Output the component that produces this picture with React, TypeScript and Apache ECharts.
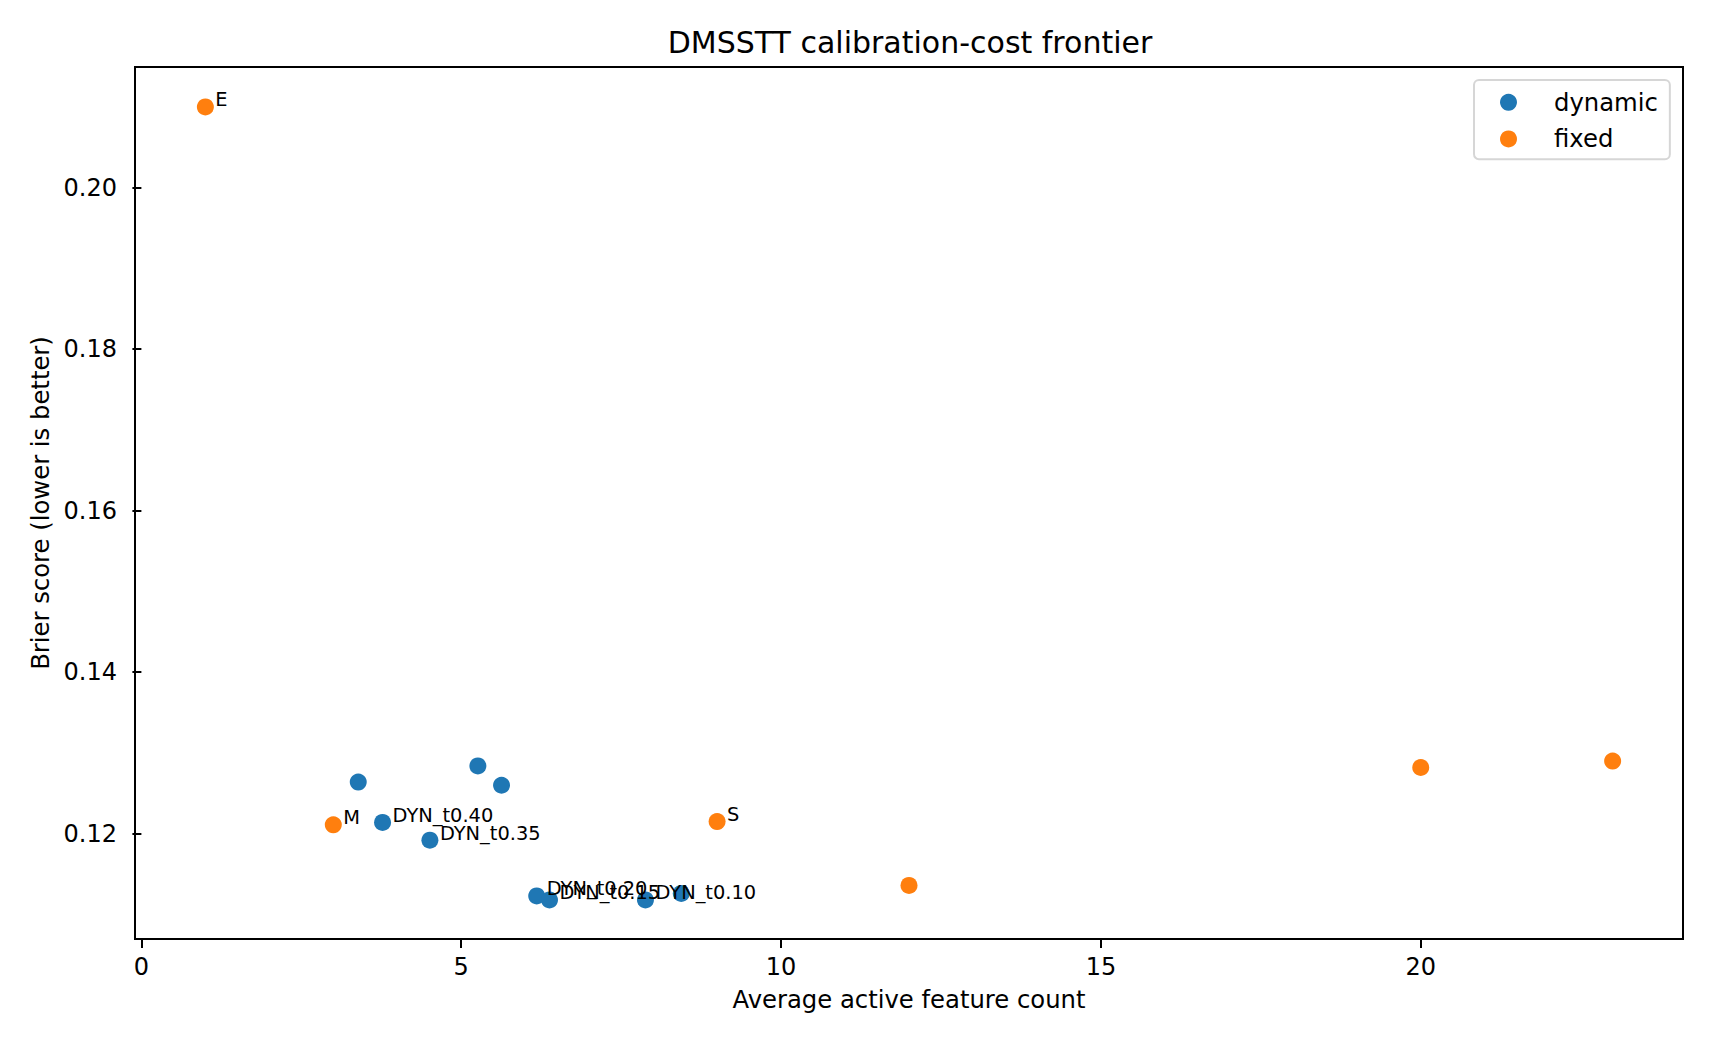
import React, { useEffect, useRef } from 'react';
import * as echarts from 'echarts';

// ---- data ----
const dynamicX = [3.39, 3.77, 4.51, 5.26, 5.63, 6.18, 6.38, 7.88, 8.44];
const dynamicY = [0.1264, 0.1214, 0.1192, 0.1284, 0.1260, 0.1123, 0.1118, 0.1118, 0.1126];
const dynamicLabels = ['', 'DYN_t0.40', 'DYN_t0.35', '', '', 'DYN_t0.20', 'DYN_t0.15', 'DYN_t0.10', ''];

const fixedX = [1, 3, 9, 12, 20, 23];
const fixedY = [0.2100, 0.1211, 0.1215, 0.1136, 0.1282, 0.1290];
const fixedLabels = ['E', 'M', 'S', '', '', ''];

const xTicks = [0, 5, 10, 15, 20];
const yTicks = [0.12, 0.14, 0.16, 0.18, 0.2];

const FONT = 'DejaVu Sans';

function buildPoints(xs: number[], ys: number[], labels: string[]) {
  return xs.map((x, i) => ({
    value: [x, ys[i]],
    name: labels[i],
    label: { show: labels[i] !== '' },
  }));
}

export default function App() {
  const ref = useRef<HTMLDivElement>(null);

  useEffect(() => {
    document.body.style.margin = '0';
    const chart = echarts.init(ref.current!, null, { renderer: 'svg' });
    const labelStyle = {
      position: 'right',
      distance: 1.5,
      offset: [0, -7],
      fontSize: 19.4,
      fontFamily: FONT,
      color: '#000',
      formatter: '{b}',
    };
    chart.setOption({
      animation: false,
      backgroundColor: '#ffffff',
      title: {
        text: 'DMSSTT calibration-cost frontier',
        left: 905,
        top: 22,
        textAlign: 'center',
        textStyle: { fontFamily: FONT, fontSize: 30, fontWeight: 'normal', color: '#000' },
      },
      legend: {
        orient: 'vertical',
        left: 1474,
        top: 80,
        itemWidth: 17,
        itemHeight: 17,
        itemGap: 0,
        padding: [4, 12, 2, 26],
        borderColor: 'rgba(204,204,204,0.8)',
        borderWidth: 2,
        borderRadius: 5,
        backgroundColor: 'rgba(255,255,255,0.8)',
        textStyle: {
          fontFamily: FONT,
          fontSize: 24.3,
          color: '#000',
          lineHeight: 36.6,
          padding: [0, 0, 0, 32],
        },
        data: [
          { name: 'dynamic', icon: 'circle' },
          { name: 'fixed', icon: 'circle' },
        ],
      },
      grid: {
        left: 135,
        top: 67,
        width: 1548,
        height: 872,
        show: true,
        borderColor: '#000',
        borderWidth: 2,
        backgroundColor: 'transparent',
        containLabel: false,
      },
      xAxis: {
        type: 'value',
        min: -0.1,
        max: 24.1,
        name: 'Average active feature count',
        nameLocation: 'middle',
        nameGap: 48,
        nameTextStyle: { fontFamily: FONT, fontSize: 24.3, color: '#000' },
        axisLine: { show: false },
        axisTick: { show: true, length: 9, lineStyle: { color: '#000', width: 2 }, customValues: xTicks },
        axisLabel: {
          customValues: xTicks,
          margin: 16,
          fontFamily: FONT,
          fontSize: 24,
          color: '#000',
          formatter: (v: number) => String(v),
        },
        splitLine: { show: false },
      },
      yAxis: {
        type: 'value',
        min: 0.10696,
        max: 0.21495,
        name: 'Brier score (lower is better)',
        nameLocation: 'middle',
        nameGap: 69,
        nameTextStyle: { fontFamily: FONT, fontSize: 24.3, color: '#000' },
        axisLine: { show: false },
        axisTick: { show: true, length: 9, lineStyle: { color: '#000', width: 2 }, customValues: yTicks },
        axisLabel: {
          customValues: yTicks,
          margin: 18,
          fontFamily: FONT,
          fontSize: 24,
          color: '#000',
          formatter: (v: number) => v.toFixed(2),
        },
        splitLine: { show: false },
      },
      series: [
        {
          name: 'dynamic',
          type: 'scatter',
          symbol: 'circle',
          symbolSize: 17,
          itemStyle: { color: '#1f77b4', opacity: 1 },
          label: labelStyle,
          emphasis: { disabled: true },
          data: buildPoints(dynamicX, dynamicY, dynamicLabels),
        },
        {
          name: 'fixed',
          type: 'scatter',
          symbol: 'circle',
          symbolSize: 17,
          itemStyle: { color: '#ff7f0e', opacity: 1 },
          label: labelStyle,
          emphasis: { disabled: true },
          data: buildPoints(fixedX, fixedY, fixedLabels),
        },
      ],
    });
    return () => chart.dispose();
  }, []);

  return <div ref={ref} style={{ width: 1710, height: 1044 }} />;
}
